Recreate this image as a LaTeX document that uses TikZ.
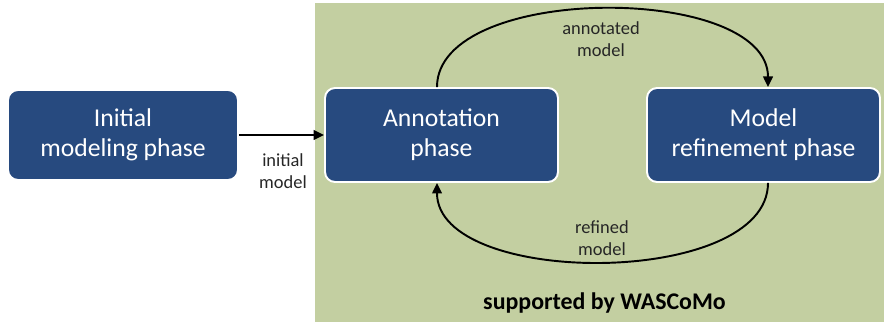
\documentclass[tikz,border=0pt]{standalone}
\usepackage{fontspec}
\setmainfont{Carlito}
\usetikzlibrary{arrows.meta}
\definecolor{phaseblue}{RGB}{39,74,127}
\definecolor{toolgreen}{RGB}{195,207,161}
\begin{document}
\begin{tikzpicture}[x=0.02cm,y=-0.02cm,
  phase/.style={draw=white,line width=1.1pt,fill=phaseblue,rounded corners=0.2cm,
    text=white,align=center,minimum width=4.66cm,minimum height=1.88cm,
    font=\fontsize{14.6}{17}\selectfont},
  flowlabel/.style={align=center,text=black!85,font=\fontsize{10.5}{12.5}\selectfont},
  flow/.style={-{Triangle[length=6pt,width=5.5pt]},line width=1.1pt}]

\useasboundingbox (0,0) rectangle (886,324);
\fill[toolgreen] (315,3) rectangle (884,322);

\node[phase,minimum width=4.6cm,minimum height=1.8cm] (init) at (123,135) {Initial\\modeling phase};
\node[phase] (ann) at (441.5,135) {Annotation\\phase};
\node[phase] (ref) at (763.5,135) {Model\\refinement phase};

\draw[flow] (init) -- (ann);
\node[flowlabel] (initlab) at (283,171) {initial\\model};

\draw[flow] ([xshift=-0.09cm]ann.north) .. controls +(0,-104) and +(0,-104) .. ([xshift=0.09cm]ref.north);
\node[flowlabel] (annlab) at (601,39) {annotated\\model};

\draw[flow] ([xshift=0.09cm]ref.south) .. controls +(0,105) and +(0,105) .. ([xshift=-0.09cm]ann.south);
\node[flowlabel] (reflab) at (602,238) {refined\\model};

\node[font=\fontsize{13.6}{16}\selectfont\bfseries] (tool) at (604.5,303) {supported by WASCoMo};

\end{tikzpicture}
\end{document}
